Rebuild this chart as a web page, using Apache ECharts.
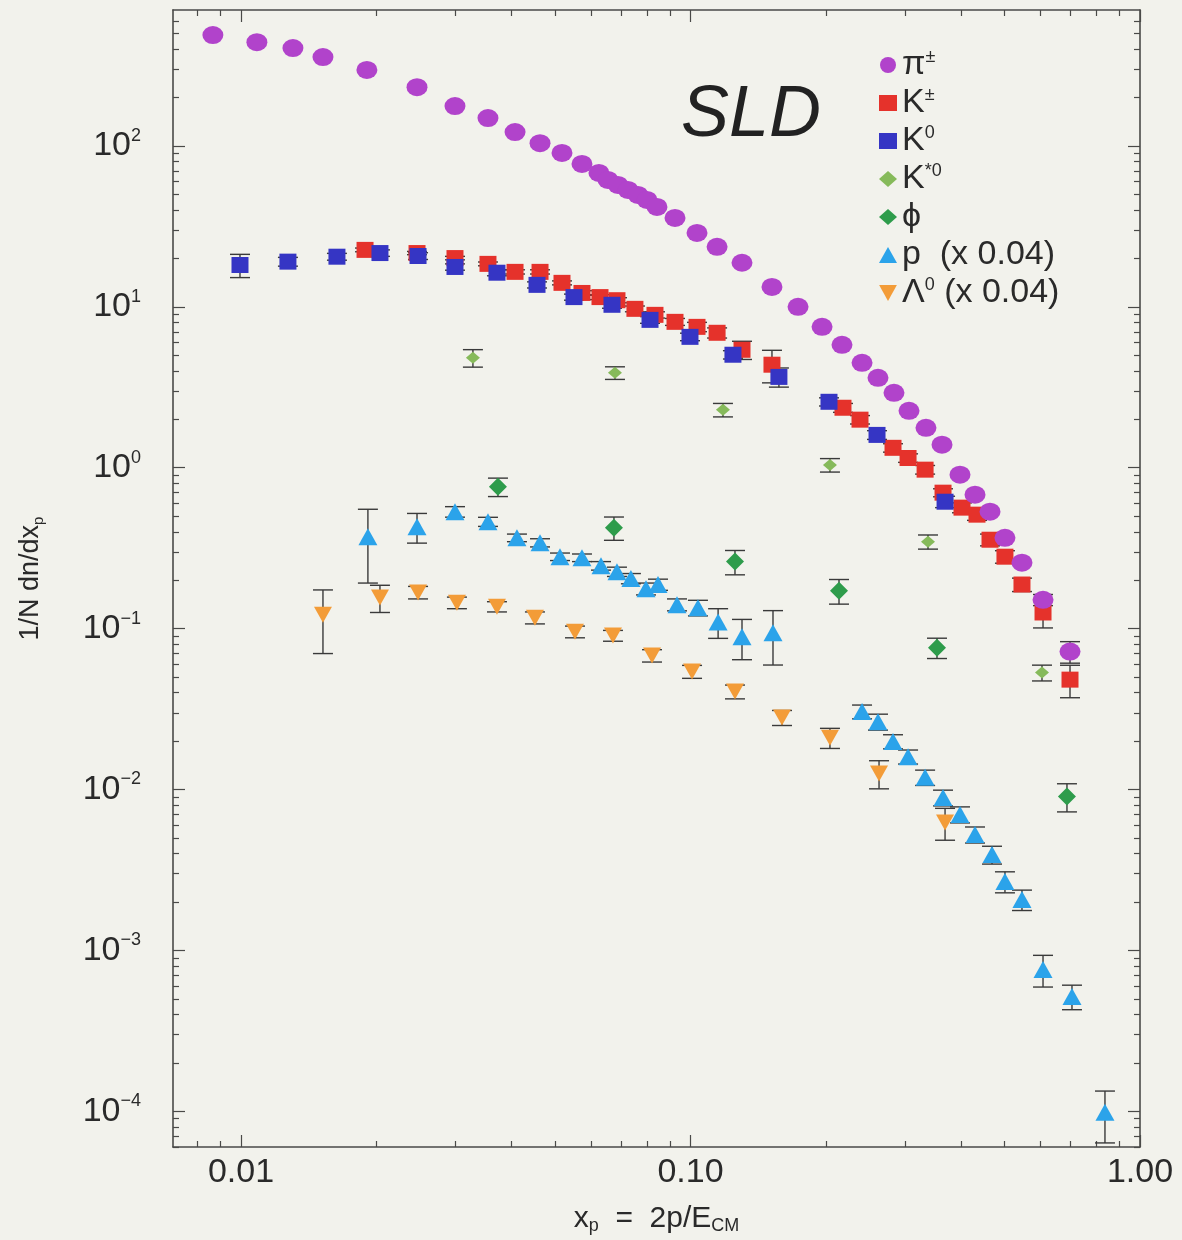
<!DOCTYPE html>
<html>
<head>
<meta charset="utf-8">
<script src="https://cdn.jsdelivr.net/npm/echarts@6/dist/echarts.min.js"></script>
<style>
  html, body { margin: 0; padding: 0; background: #f2f2ec; }
  #chart { width: 1182px; height: 1240px; }
</style>
</head>
<body>
<div id="chart"></div>
<script>
// pi+-
const piX = [0.00866, 0.01085, 0.01305, 0.01522, 0.01906, 0.02464, 0.02993, 0.03544, 0.04071, 0.04627,
  0.05178, 0.05736, 0.06257, 0.06552, 0.06897, 0.07261, 0.07642, 0.08003, 0.08423, 0.09238,
  0.1034, 0.1146, 0.1302, 0.1518, 0.1735, 0.1962, 0.2173, 0.2408, 0.2613, 0.2836,
  0.3063, 0.3341, 0.3627, 0.3977, 0.4295, 0.4638, 0.5007, 0.5463, 0.6085, 0.6987]
const piY = [489, 442, 406, 357, 297, 232, 177, 149, 122, 104,
  90.5, 77.3, 68.0, 61.5, 57.3, 53.3, 49.6, 46.2, 41.8, 35.7,
  28.8, 23.6, 18.8, 13.3, 10.0, 7.51, 5.81, 4.49, 3.62, 2.92,
  2.26, 1.77, 1.39, 0.905, 0.680, 0.533, 0.367, 0.257, 0.151, 0.0720]
const piErr = [0, 0, 0, 0, 0, 0, 0, 0, 0, 0,
  0, 0, 0, 0, 0, 0, 0, 0, 0, 0,
  0, 0, 0, 0, 0, 0, 0, 0, 0, 0,
  0, 0, 0, 0, 0, 0, 0, 0, 0.012, 0.011]

// K+-
const kchX = [0.01888, 0.02464, 0.02993, 0.03544, 0.04071, 0.04627, 0.05178, 0.05736, 0.06291, 0.06862,
  0.07523, 0.08337, 0.09238, 0.1034, 0.1146, 0.1302, 0.1518, 0.2184, 0.2383, 0.2822,
  0.3048, 0.3326, 0.3646, 0.4018, 0.4339, 0.4638, 0.5007, 0.5463, 0.6085, 0.6987]
const kchY = [22.6, 21.6, 20.1, 18.5, 16.5, 16.5, 14.1, 12.2, 11.5, 11.0,
  9.72, 8.92, 8.07, 7.51, 6.90, 5.41, 4.37, 2.36, 1.99, 1.33,
  1.15, 0.973, 0.700, 0.565, 0.511, 0.357, 0.280, 0.188, 0.126, 0.0482]
const kchErr = [0.6, 0.5, 0.5, 0.5, 0.5, 0.5, 0.4, 0.4, 0.4, 0.4,
  0.4, 0.4, 0.4, 0.5, 0.5, 0.7, 1.0, 0.15, 0.12, 0.08,
  0.07, 0.06, 0.04, 0.04, 0.04, 0.03, 0.025, 0.018, 0.025, 0.011]

// K0
const k0X = [0.00995, 0.01272, 0.01635, 0.02038, 0.02477, 0.02993, 0.03711, 0.04556, 0.05506, 0.06689,
  0.08128, 0.09975, 0.1243, 0.1573, 0.2033, 0.2600, 0.3684]
const k0Y = [18.2, 19.1, 20.5, 21.6, 20.7, 17.7, 16.3, 13.7, 11.5, 10.3,
  8.30, 6.51, 5.04, 3.67, 2.57, 1.60, 0.615]
const k0Err = [3.0, 1.2, 1.0, 1.0, 1.0, 0.8, 0.7, 0.6, 0.5, 0.5,
  0.4, 0.35, 0.3, 0.5, 0.15, 0.1, 0.05]

// K*0
const ksX = [0.03281, 0.06792, 0.1181, 0.2043, 0.3376, 0.6053]
const ksY = [4.82, 3.89, 2.29, 1.04, 0.347, 0.0533]
const ksErr = [0.6, 0.35, 0.22, 0.1, 0.035, 0.006]

// phi
const phiX = [0.03730, 0.06757, 0.1256, 0.2140, 0.3535, 0.6879]
const phiY = [0.762, 0.424, 0.261, 0.172, 0.0762, 0.00906]
const phiErr = [0.1, 0.07, 0.045, 0.03, 0.011, 0.0018]

// p (x 0.04)
const pX = [0.01916, 0.02464, 0.02993, 0.03544, 0.04111, 0.04627, 0.05125, 0.05736, 0.06323, 0.06862,
  0.07370, 0.07962, 0.08467, 0.09333, 0.1039, 0.1152, 0.1302, 0.1526, 0.2408, 0.2613,
  0.2822, 0.3048, 0.3326, 0.3646, 0.3977, 0.4295, 0.4686, 0.5007, 0.5463, 0.6085,
  0.7058, 0.8357]
const pY = [0.372, 0.430, 0.533, 0.462, 0.367, 0.342, 0.280, 0.276, 0.246, 0.226,
  0.205, 0.177, 0.188, 0.141, 0.135, 0.110, 0.0891, 0.0944, 0.0305, 0.0264,
  0.0199, 0.0160, 0.0119, 0.00891, 0.00700, 0.00525, 0.00394, 0.00268, 0.00207, 0.000762,
  0.000518, 0.0000986]
const pErr = [0.18, 0.09, 0.04, 0.03, 0.02, 0.02, 0.015, 0.015, 0.015, 0.015,
  0.015, 0.015, 0.015, 0.012, 0.015, 0.023, 0.025, 0.035, 0.003, 0.003,
  0.002, 0.0016, 0.0013, 0.001, 0.0008, 0.0006, 0.0005, 0.0004, 0.0003, 0.00017,
  0.00009, 0.000035]

// Lambda0 (x 0.04)
const lamX = [0.01522, 0.02038, 0.02477, 0.03023, 0.03711, 0.04508, 0.05534, 0.06723, 0.08211, 0.1008,
  0.1256, 0.1598, 0.2043, 0.2627, 0.3684]
const lamY = [0.122, 0.156, 0.168, 0.145, 0.137, 0.117, 0.0957, 0.0905, 0.0680, 0.0541,
  0.0406, 0.0280, 0.0210, 0.0126, 0.00624]
const lamErr = [0.052, 0.03, 0.015, 0.012, 0.01, 0.01, 0.008, 0.007, 0.006, 0.005,
  0.004, 0.003, 0.003, 0.0025, 0.0014]

// axes
const xMajor = [0.01, 0.1, 1]
const xTickLabels = ['0.01', '0.10', '1.00']
const yMajor = [1e-4, 1e-3, 1e-2, 1e-1, 1, 10, 100]
const yExponents = ['\u22124', '\u22123', '\u22122', '\u22121', '0', '1', '2']
const X_MIN = 0.00706
const X_MAX = 1
const Y_MIN = 6.0e-5
const Y_MAX = 700

// minor ticks 2..9 in each decade
const xMinor = []
const yMinor = []
for (let e = -3; e <= 0; e++) {
  for (let m = 2; m <= 9; m++) {
    const v = m * Math.pow(10, e)
    if (v > X_MIN && v < X_MAX) xMinor.push(v)
  }
}
for (let e = -5; e <= 2; e++) {
  for (let m = 2; m <= 9; m++) {
    const v = m * Math.pow(10, e)
    if (v > Y_MIN && v < Y_MAX) yMinor.push(v)
  }
}

const FONT = '"Liberation Sans", Arial, Helvetica, sans-serif'
const INK = '#2a2a2a'
const FRAME = '#4a4a48'

const legendLabels = {
  pi: '\u03c0{s|\u00b1}',
  kch: 'K{s|\u00b1}',
  k0: 'K{s|0}',
  kstar: 'K{s|*0}',
  phi: '\u03d5',
  p: 'p  (x 0.04)',
  lam: '\u039b{s|0} (x 0.04)'
}

const downTriangle = 'path://M0,0 L10,0 L5,9 Z'

const chart = echarts.init(document.getElementById('chart'))

// x axes: bottom / top, major and minor ticks
function makeX(position, ticks, len, main) {
  return {
    type: 'log',
    logBase: 10,
    min: X_MIN,
    max: X_MAX,
    position,
    splitLine: { show: false },
    axisLine: { show: main !== undefined, onZero: false, lineStyle: { color: FRAME, width: 1.6 } },
    axisTick: { show: true, inside: true, length: len, customValues: ticks, lineStyle: { color: FRAME, width: 1.2 } },
    axisLabel: { show: false }
  }
}
function makeY(position, ticks, len, main) {
  return {
    type: 'log',
    logBase: 10,
    min: Y_MIN,
    max: Y_MAX,
    position,
    splitLine: { show: false },
    axisLine: { show: main !== undefined, onZero: false, lineStyle: { color: FRAME, width: 1.6 } },
    axisTick: { show: true, inside: true, length: len, customValues: ticks, lineStyle: { color: FRAME, width: 1.2 } },
    axisLabel: { show: false }
  }
}

const xBottom = makeX('bottom', xMajor, 12, true)
xBottom.axisLabel = {
  show: true,
  customValues: xMajor,
  margin: 9,
  fontSize: 34,
  fontFamily: FONT,
  color: INK,
  formatter: (v) => xTickLabels[Math.round(Math.log10(v)) + 2]
}
xBottom.name = '{t|x}{sub|p}{t|  =  2p/E}{sub|CM}'
xBottom.nameLocation = 'middle'
xBottom.nameGap = 56
xBottom.nameTextStyle = {
  fontFamily: FONT,
  color: INK,
  rich: {
    t: { fontSize: 30, lineHeight: 32, fontFamily: FONT, color: INK },
    sub: { fontSize: 18, lineHeight: 12, verticalAlign: 'bottom', fontFamily: FONT, color: INK }
  }
}

const yLeft = makeY('left', yMajor, 12, true)
yLeft.axisLabel = {
  show: true,
  customValues: yMajor,
  margin: 32,
  fontFamily: FONT,
  color: INK,
  formatter: (v) => '{b|10}{s|' + yExponents[Math.round(Math.log10(v)) + 4] + '}',
  rich: {
    b: { fontSize: 34, lineHeight: 38, fontFamily: FONT, color: INK },
    s: { fontSize: 18, lineHeight: 18, verticalAlign: 'top', fontFamily: FONT, color: INK }
  }
}
yLeft.name = '{t|1/N dn/dx}{sub|p}'
yLeft.nameLocation = 'middle'
yLeft.nameGap = 127
yLeft.nameTextStyle = {
  fontFamily: FONT,
  color: INK,
  rich: {
    t: { fontSize: 27, lineHeight: 30, fontFamily: FONT, color: INK },
    sub: { fontSize: 15, lineHeight: 10, verticalAlign: 'bottom', fontFamily: FONT, color: INK }
  }
}

// error bars drawn with a custom series
function errorBars(key, xs, ys, errs) {
  return {
    type: 'custom',
    name: key + '-err',
    xAxisIndex: 0,
    yAxisIndex: 0,
    silent: true,
    clip: true,
    z: 2,
    data: xs.map((x, i) => [x, ys[i] - errs[i], ys[i] + errs[i]]),
    encode: { x: 0, y: [1, 2] },
    renderItem(params, api) {
      if (api.value(1) === api.value(2)) return null
      const lo = api.coord([api.value(0), api.value(1)])
      const hi = api.coord([api.value(0), api.value(2)])
      const w = 10
      const style = { stroke: '#3a3a3a', lineWidth: 1.4 }
      return {
        type: 'group',
        children: [
          { type: 'line', shape: { x1: lo[0], y1: lo[1], x2: hi[0], y2: hi[1] }, style },
          { type: 'line', shape: { x1: hi[0] - w, y1: hi[1], x2: hi[0] + w, y2: hi[1] }, style },
          { type: 'line', shape: { x1: lo[0] - w, y1: lo[1], x2: lo[0] + w, y2: lo[1] }, style }
        ]
      }
    }
  }
}

function points(key, xs, ys, symbol, size, color, z) {
  return {
    type: 'scatter',
    name: key,
    xAxisIndex: 0,
    yAxisIndex: 0,
    symbol,
    symbolSize: size,
    z,
    itemStyle: { color, opacity: 1 },
    emphasis: { disabled: true },
    data: xs.map((x, i) => [x, ys[i]])
  }
}

const series = [
  errorBars('lam', lamX, lamY, lamErr),
  errorBars('p', pX, pY, pErr),
  errorBars('phi', phiX, phiY, phiErr),
  errorBars('kstar', ksX, ksY, ksErr),
  errorBars('kch', kchX, kchY, kchErr),
  errorBars('k0', k0X, k0Y, k0Err),
  errorBars('pi', piX, piY, piErr),
  points('lam', lamX, lamY, downTriangle, [18, 16], '#f39c38', 3),
  points('p', pX, pY, 'triangle', [19, 17], '#2ba3ea', 3),
  points('phi', phiX, phiY, 'diamond', [18, 18], '#2e9c4b', 3),
  points('kstar', ksX, ksY, 'diamond', [14, 12], '#86ba5a', 3),
  points('kch', kchX, kchY, 'rect', [17, 16], '#e5322b', 4),
  points('k0', k0X, k0Y, 'rect', [17, 16], '#3535c4', 5),
  points('pi', piX, piY, 'circle', [21, 18], '#b143cb', 6)
]

const option = {
  backgroundColor: '#f2f2ec',
  animation: false,
  grid: { left: 173, right: 42, top: 10, bottom: 92 },
  xAxis: [
    xBottom,
    makeX('bottom', xMinor, 6),
    makeX('top', xMajor, 12, true),
    makeX('top', xMinor, 6)
  ],
  yAxis: [
    yLeft,
    makeY('left', yMinor, 6),
    makeY('right', yMajor, 12, true),
    makeY('right', yMinor, 6)
  ],
  legend: {
    data: ['pi', 'kch', 'k0', 'kstar', 'phi', 'p', 'lam'],
    orient: 'vertical',
    left: 874,
    top: 43,
    itemWidth: 18,
    itemHeight: 16,
    itemGap: 4,
    selectedMode: false,
    formatter: (name) => legendLabels[name],
    textStyle: {
      fontFamily: FONT,
      fontSize: 34,
      lineHeight: 34,
      color: INK,
      rich: {
        s: { fontSize: 18, lineHeight: 17, verticalAlign: 'top', fontFamily: FONT, color: INK }
      }
    }
  },
  graphic: [
    {
      type: 'text',
      x: 751,
      y: 116,
      style: {
        text: 'SLD',
        font: 'italic 72px "Liberation Sans", Arial, sans-serif',
        fill: '#222',
        align: 'center',
        verticalAlign: 'middle'
      }
    }
  ],
  series
}

chart.setOption(option)
</script>
</body>
</html>
